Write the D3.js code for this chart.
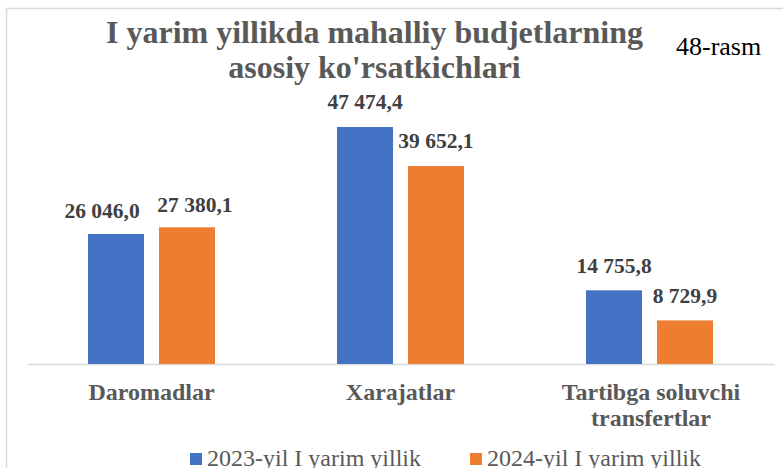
<!DOCTYPE html>
<html>
<head>
<meta charset="utf-8">
<script src="https://cdn.jsdelivr.net/npm/d3@7"></script>
<style>
  html, body { margin: 0; padding: 0; background: #ffffff; }
  svg { display: block; }
</style>
</head>
<body>
<svg id="chart" width="783" height="468"></svg>
<script>
// Chart data
const categories = ["Daromadlar", "Xarajatlar", "Tartibga soluvchi transfertlar"];
const categoryLines = [["Daromadlar"], ["Xarajatlar"], ["Tartibga soluvchi", "transfertlar"]];
const seriesNames = ["2023-yil I yarim yillik", "2024-yil I yarim yillik"];
const values2023 = [26046.0, 47474.4, 14755.8];
const values2024 = [27380.1, 39652.1, 8729.9];
const valueLabels2023 = ["26 046,0", "47 474,4", "14 755,8"];
const valueLabels2024 = ["27 380,1", "39 652,1", "8 729,9"];
const titleLines = ["I yarim yillikda mahalliy budjetlarning", "asosiy ko'rsatkichlari"];
const figureTag = "48-rasm";

// Presentation
const colors = ["#4472c4", "#ed7d31"];
// manual label nudges (dx, dy above bar top) per category, per series
const labelNudge = [
  [[-14, -16], [8, -15]],
  [[0, -18], [0, -18]],
  [[0, -17], [0, -17]]
];

const svg = d3.select("#chart");
const W = 783, H = 468;
const serif = "'Liberation Serif', 'Times New Roman', serif";

// Outer chart frame (extends past the visible area on the right/bottom)
svg.append("rect")
  .attr("x", 6.5).attr("y", 8.5)
  .attr("width", W + 20).attr("height", H + 20)
  .attr("fill", "#ffffff")
  .attr("stroke", "#d9d9d9").attr("stroke-width", 1.5);

const baseY = 364;
const x0 = d3.scaleBand().domain(categories).range([27, 774]).padding(0);
const groupW = 127;
const x1 = d3.scaleBand().domain(seriesNames)
  .range([x0.bandwidth() / 2 - groupW / 2, x0.bandwidth() / 2 + groupW / 2])
  .paddingInner(0.211).paddingOuter(0);
const y = d3.scaleLinear().domain([0, 50000]).range([baseY, 114.4]);

const rows = categories.map((c, i) => ({
  cat: c,
  i,
  vals: [
    { s: seriesNames[0], v: values2023[i], label: valueLabels2023[i], k: 0 },
    { s: seriesNames[1], v: values2024[i], label: valueLabels2024[i], k: 1 }
  ]
}));

// Category axis (baseline + labels)
const axis = d3.axisBottom(x0).tickSize(0).tickFormat("");
const gAxis = svg.append("g").attr("transform", `translate(0,${baseY})`).call(axis);
gAxis.select(".domain").attr("stroke", "#d9d9d9").attr("stroke-width", 1.5);

const catLab = svg.append("g").selectAll("text").data(rows).join("text")
  .attr("x", d => x0(d.cat) + x0.bandwidth() / 2 + (d.i === 2 ? 1.5 : 0))
  .attr("y", 400)
  .attr("text-anchor", "middle")
  .attr("font-family", serif).attr("font-weight", "bold")
  .attr("font-size", 24).attr("fill", "#595959");
catLab.selectAll("tspan").data(d => categoryLines[d.i]).join("tspan")
  .attr("x", function () { return d3.select(this.parentNode).attr("x"); })
  .attr("dy", (d, j) => j === 0 ? 0 : 26)
  .text(d => d);

// Bars
const groups = svg.append("g").selectAll("g").data(rows).join("g")
  .attr("transform", d => `translate(${x0(d.cat)},0)`);
groups.selectAll("rect").data(d => d.vals).join("rect")
  .attr("x", d => x1(d.s))
  .attr("y", d => y(d.v))
  .attr("width", x1.bandwidth())
  .attr("height", d => baseY - y(d.v))
  .attr("fill", d => colors[d.k]);

// Value labels
groups.selectAll("text").data(d => d.vals.map(v => ({ ...v, ci: d.i }))).join("text")
  .attr("x", d => x1(d.s) + x1.bandwidth() / 2 + labelNudge[d.ci][d.k][0])
  .attr("y", d => y(d.v) + labelNudge[d.ci][d.k][1])
  .attr("text-anchor", "middle")
  .attr("font-family", serif).attr("font-weight", "bold")
  .attr("font-size", 21.5).attr("fill", "#404040")
  .text(d => d.label);

// Title (two lines)
const titleG = svg.append("g").attr("font-family", serif).attr("font-weight", "bold")
  .attr("font-size", 32).attr("fill", "#595959").attr("text-anchor", "middle");
titleG.selectAll("text").data(titleLines).join("text")
  .attr("x", 374.5)
  .attr("y", (d, j) => 43 + j * 35)
  .text(d => d);

// Figure tag
svg.append("text")
  .attr("x", 676).attr("y", 55)
  .attr("font-family", serif).attr("font-size", 26).attr("fill", "#000000")
  .text(figureTag);

// Legend
const legendX = [190, 470];
const leg = svg.append("g").selectAll("g").data(seriesNames).join("g")
  .attr("transform", (d, i) => `translate(${legendX[i]},453)`);
leg.append("rect").attr("width", 12).attr("height", 12)
  .attr("fill", (d, i) => colors[i]);
leg.append("text")
  .attr("x", 17).attr("y", 12.5)
  .attr("font-family", serif).attr("font-size", 24).attr("fill", "#595959")
  .text(d => d);
</script>
</body>
</html>
